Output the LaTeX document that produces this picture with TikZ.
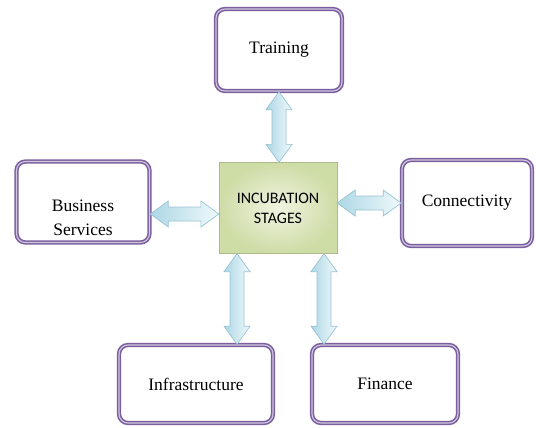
\documentclass[tikz,border=0pt]{standalone}
\usepackage{fontspec}
\setmainfont{Liberation Serif}
\newfontfamily\corefont{Carlito}
\usetikzlibrary{calc}
\definecolor{stagepurple}{HTML}{7A5E9E}
\definecolor{stagelilac}{HTML}{D2C7E0}
\definecolor{corelight}{HTML}{F0F4E1}
\definecolor{coredark}{HTML}{CEDCA6}
\definecolor{linkblue}{HTML}{ADD7E5}
\definecolor{linkpale}{HTML}{F0F9FC}
\definecolor{linkedge}{HTML}{98C3D4}
\begin{document}
\begin{tikzpicture}[x=1pt,y=-1pt,
      stage node/.style={rectangle,rounded corners=9pt,draw=stagepurple,fill=white,
        line width=1.6pt,double=stagelilac,double distance=1.1pt,
        font=\fontsize{17.5}{24}\selectfont,align=center},
      core node/.style={rectangle,draw=coredark!85!black,line width=0.3pt,
        inner color=corelight,outer color=coredark,
        minimum width=118pt,minimum height=91pt,
        font=\corefont\fontsize{16}{20}\selectfont,align=center},
      link/.style={draw=linkedge,line width=0.7pt,shade,left color=linkblue,right color=linkpale,
        to path={-- ($(\tikztostart)!18pt!(\tikztotarget)!13pt!90:(\tikztotarget)$)
          -- ($(\tikztostart)!18pt!(\tikztotarget)!7pt!90:(\tikztotarget)$)
          -- ($(\tikztotarget)!18pt!(\tikztostart)!7pt!-90:(\tikztostart)$)
          -- ($(\tikztotarget)!18pt!(\tikztostart)!13pt!-90:(\tikztostart)$)
          -- (\tikztotarget)
          -- ($(\tikztotarget)!18pt!(\tikztostart)!13pt!90:(\tikztostart)$)
          -- ($(\tikztotarget)!18pt!(\tikztostart)!7pt!90:(\tikztostart)$)
          -- ($(\tikztostart)!18pt!(\tikztotarget)!7pt!-90:(\tikztotarget)$)
          -- ($(\tikztostart)!18pt!(\tikztotarget)!13pt!-90:(\tikztotarget)$)
          -- cycle}}]
 \useasboundingbox (0,0) rectangle (536,428);
 \node[core node] (C) at (278,208) {INCUBATION\\STAGES};
 \node[stage node, minimum width=126pt, minimum height=82pt] (T) [above of=C, node distance=158pt, xshift=1pt] {Training};
 \node[stage node, minimum width=133pt, minimum height=81pt, inner ysep=0pt, text height=72pt, text depth=5pt] (B) [left of=C, node distance=195pt, yshift=6pt] {Business\\Services};
 \node[stage node, minimum width=130pt, minimum height=86pt] (K) [right of=C, node distance=189pt, yshift=5pt] {Connectivity};
 \node[stage node, minimum width=154pt, minimum height=78pt] (I) [below of=C, node distance=176pt, xshift=-82pt] {Infrastructure};
 \node[stage node, minimum width=146pt, minimum height=78pt] (F) [below of=C, node distance=176pt, xshift=107pt] {Finance};

 \path[link] (T.south) to (T.south |- C.north);
 \path[link] ([yshift=-12pt]B.east) to ([yshift=-12pt]B.east -| C.west);
 \path[link] (C.east |- K.west) to (K.west);
 \path[link] ([xshift=-41pt]C.south) to ([xshift=-41pt]C.south |- I.north);
 \path[link] ([xshift=46pt]C.south) to ([xshift=46pt]C.south |- F.north);
\end{tikzpicture}
\end{document}
